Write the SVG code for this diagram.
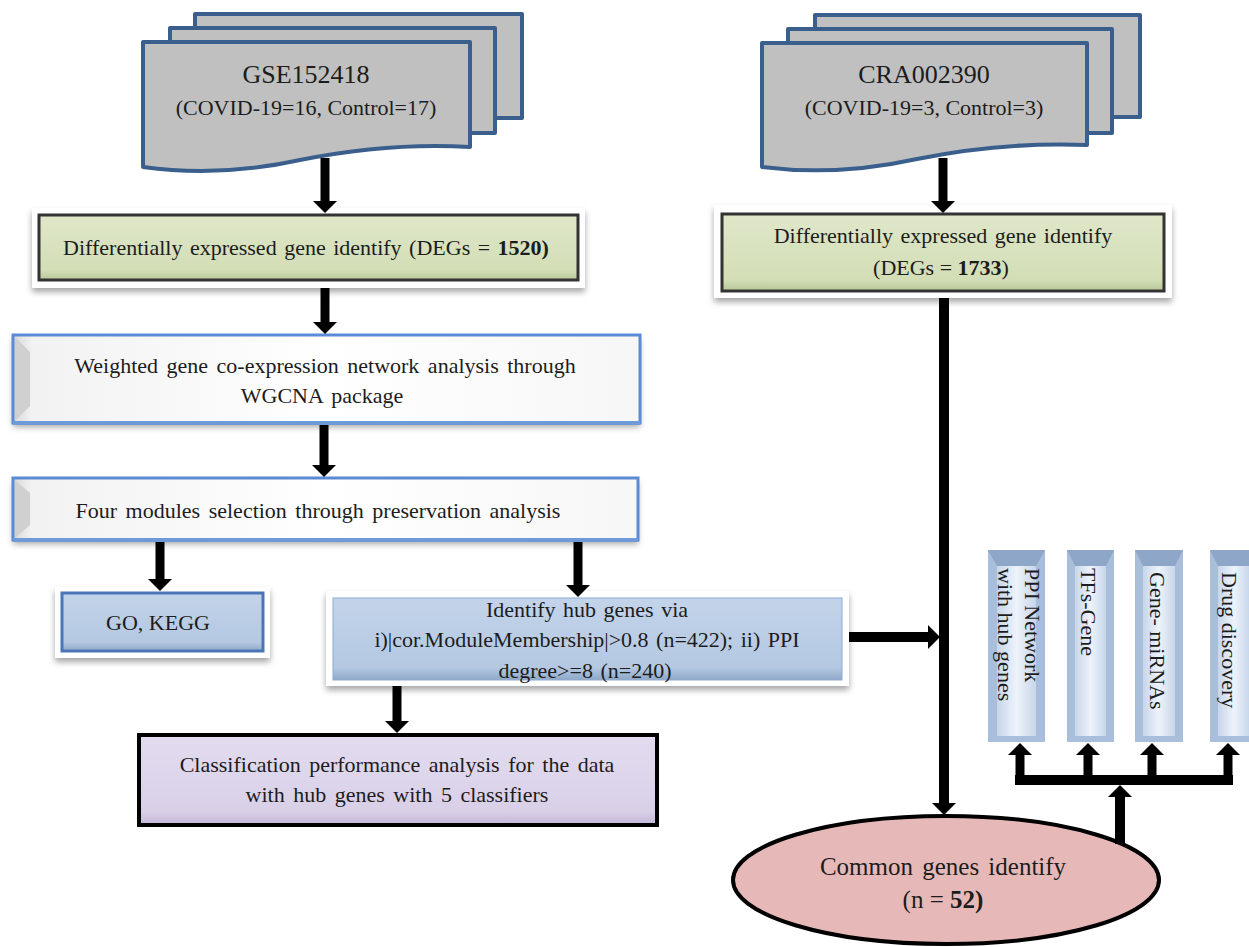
<svg xmlns="http://www.w3.org/2000/svg" width="1249" height="947" viewBox="0 0 1249 947">
<defs>
<style>
.t{font-family:"Liberation Serif","Times New Roman",serif;fill:#1c1c1c;font-size:22px;text-anchor:middle}
.doc{fill:#c0c0c0;stroke:#3b5f8c;stroke-width:4;stroke-linejoin:round}
.glow{fill:#ffffff;filter:url(#sh)}
.deg{fill:url(#gGreen);stroke:#333333;stroke-width:3}
.wbox{fill:url(#gWhite);stroke:#5b8bd4;stroke-width:3}
.bbox{fill:url(#gBlue)}
.conn{stroke:#000;stroke-width:9;fill:none}
.vb{fill:#a9bedb}
.vbi{fill:url(#gVert)}
.vbt{fill:#8ea6c7}
</style>
<filter id="sh" x="-5%" y="-15%" width="110%" height="140%">
<feDropShadow dx="0" dy="4" stdDeviation="3" flood-color="#000" flood-opacity="0.35"/>
</filter>
<linearGradient id="gGreen" x1="0" y1="0" x2="0" y2="1">
<stop offset="0" stop-color="#dfe7c9"/><stop offset="0.85" stop-color="#d3deb6"/><stop offset="1" stop-color="#b9c79a"/>
</linearGradient>
<linearGradient id="gWhite" x1="0" y1="0" x2="1" y2="0">
<stop offset="0" stop-color="#d8d8d8"/><stop offset="0.03" stop-color="#f2f2f2"/><stop offset="0.5" stop-color="#ffffff"/><stop offset="1" stop-color="#f7f7f7"/>
</linearGradient>
<linearGradient id="gBlue" x1="0" y1="0" x2="0" y2="1">
<stop offset="0" stop-color="#c3d4ea"/><stop offset="0.85" stop-color="#b4c8e2"/><stop offset="1" stop-color="#8fa8c8"/>
</linearGradient>
<linearGradient id="gPurple" x1="0" y1="0" x2="0" y2="1">
<stop offset="0" stop-color="#e3dcef"/><stop offset="0.85" stop-color="#d9d0e8"/><stop offset="1" stop-color="#c2b6d6"/>
</linearGradient>
<linearGradient id="gVert" x1="0" y1="0" x2="1" y2="0">
<stop offset="0" stop-color="#c7d6ea"/><stop offset="0.5" stop-color="#eef3fa"/><stop offset="1" stop-color="#c7d6ea"/>
</linearGradient>
<marker id="ah" markerUnits="userSpaceOnUse" markerWidth="12" markerHeight="24" refX="0" refY="12" orient="auto">
<path d="M0,0 L12,12 L0,24 Z" fill="#000"/>
</marker>
</defs>
<rect width="1249" height="947" fill="#ffffff"/>

<g id="gse152418">
<rect class="doc" x="195" y="14" width="327" height="104"/>
<rect class="doc" x="170" y="28" width="325" height="105"/>
<path class="doc" d="M143,42 H470 V147 C420,144 360,148 300,160 C250,171 200,175 143,167 Z"/>
<text class="t" x="306" y="83" style="font-size:26px">GSE152418</text>
<text class="t" x="306" y="115">(COVID-19=16, Control=17)</text>
</g>

<g id="cra002390">
<rect class="doc" x="815" y="15" width="325" height="102"/>
<rect class="doc" x="788" y="29" width="324" height="104"/>
<path class="doc" d="M762,43 H1087 V145 C1037,143 977,147 917,159 C867,170 817,174 762,167 Z"/>
<text class="t" x="924" y="83" style="font-size:26px">CRA002390</text>
<text class="t" x="924" y="115">(COVID-19=3, Control=3)</text>
</g>

<g id="deg1">
<rect class="glow" x="32" y="208" width="553" height="80"/>
<rect class="deg" x="39" y="215" width="539" height="65"/>
<text class="t" x="306" y="255" style="word-spacing:2px">Differentially expressed gene identify (DEGs = <tspan font-weight="bold">1520)</tspan></text>
</g>

<g id="deg2">
<rect class="glow" x="714" y="205" width="458" height="93"/>
<rect class="deg" x="722" y="214" width="442" height="77"/>
<text class="t" x="943" y="243" style="word-spacing:2px">Differentially expressed gene identify</text>
<text class="t" x="941" y="275">(DEGs = <tspan font-weight="bold">1733</tspan>)</text>
</g>

<g id="wgcna">
<rect x="13" y="335" width="627" height="88" fill="#ffffff" filter="url(#sh)"/>
<rect class="wbox" x="13" y="335" width="627" height="88"/>
<polygon points="15,337 30,352 30,406 15,421" fill="#d0d0d0"/>
<line x1="13" y1="423" x2="640" y2="423" stroke="#6f9ad8" stroke-width="4"/>
<text class="t" x="325" y="373" style="word-spacing:3px">Weighted gene co-expression network analysis through</text>
<text class="t" x="322" y="403" style="word-spacing:3px">WGCNA package</text>
</g>

<g id="modules">
<rect x="13" y="478" width="625" height="62" fill="#ffffff" filter="url(#sh)"/>
<rect class="wbox" x="13" y="478" width="625" height="62"/>
<polygon points="15,480 30,493 30,525 15,538" fill="#d0d0d0"/>
<line x1="13" y1="540" x2="638" y2="540" stroke="#6f9ad8" stroke-width="4"/>
<text class="t" x="318" y="518" style="word-spacing:3px">Four modules selection through preservation analysis</text>
</g>

<g id="gokegg">
<rect class="glow" x="55" y="587" width="215" height="71"/>
<rect class="bbox" x="62" y="593" width="201" height="58" stroke="#4a76b8" stroke-width="3"/>
<text class="t" x="158" y="630">GO, KEGG</text>
</g>

<g id="hub">
<rect class="glow" x="326" y="591" width="523" height="95"/>
<rect class="bbox" x="333" y="598" width="509" height="82" stroke="#8eaad0" stroke-width="1"/>
<text class="t" x="587" y="617" style="word-spacing:2px">Identify hub genes via</text>
<text class="t" x="587" y="647" style="word-spacing:2px">i)|cor.ModuleMembership|&gt;0.8  (n=422); ii) PPI</text>
<text class="t" x="585" y="678" style="word-spacing:2px">degree&gt;=8 (n=240)</text>
</g>

<g id="classification">
<rect x="139" y="735" width="518" height="90" fill="url(#gPurple)" stroke="#000" stroke-width="4"/>
<text class="t" x="397" y="772" style="word-spacing:3px">Classification performance analysis for the data</text>
<text class="t" x="397" y="802" style="word-spacing:3px">with hub genes with 5 classifiers</text>
</g>

<g id="ppi">
<rect class="vb" x="988" y="550" width="57" height="192"/>
<rect class="vbi" x="997" y="566" width="39" height="170"/>
<polygon class="vbt" points="988,550 1045,550 1036,566 997,566"/>
<text class="t" style="text-anchor:start" transform="translate(1025,568) rotate(90)">PPI Network</text>
<text class="t" style="text-anchor:start" transform="translate(998,568) rotate(90)">with hub genes</text>
</g>

<g id="tfs">
<rect class="vb" x="1067" y="550" width="47" height="192"/>
<rect class="vbi" x="1075" y="566" width="31" height="170"/>
<polygon class="vbt" points="1067,550 1114,550 1106,566 1075,566"/>
<text class="t" style="text-anchor:start" transform="translate(1081,568) rotate(90)">TFs-Gene</text>
</g>

<g id="mirna">
<rect class="vb" x="1135" y="550" width="48" height="192"/>
<rect class="vbi" x="1143" y="566" width="32" height="170"/>
<polygon class="vbt" points="1135,550 1183,550 1175,566 1143,566"/>
<text class="t" style="text-anchor:start" transform="translate(1150,572) rotate(90)">Gene- miRNAs</text>
</g>

<g id="drug">
<rect class="vb" x="1210" y="550" width="48" height="192"/>
<rect class="vbi" x="1218" y="566" width="32" height="170"/>
<polygon class="vbt" points="1210,550 1258,550 1250,566 1218,566"/>
<text class="t" style="text-anchor:start" transform="translate(1222,572) rotate(90)">Drug discovery</text>
</g>

<g id="common">
<ellipse cx="946" cy="880" rx="213" ry="64" fill="#e6b9b8" stroke="#000" stroke-width="4"/>
<text class="t" x="943" y="875" style="font-size:25px;word-spacing:3px">Common genes identify</text>
<text class="t" x="943" y="908" style="font-size:25px">(n = <tspan font-weight="bold">52)</tspan></text>
</g>

<g id="connectors">
<line class="conn" x1="325" y1="158" x2="325" y2="201" marker-end="url(#ah)"/>
<line class="conn" x1="943" y1="158" x2="943" y2="201" marker-end="url(#ah)"/>
<line class="conn" x1="325" y1="288" x2="325" y2="322" marker-end="url(#ah)"/>
<line class="conn" x1="324" y1="425" x2="324" y2="465" marker-end="url(#ah)"/>
<line class="conn" x1="160" y1="542" x2="160" y2="579" marker-end="url(#ah)"/>
<line class="conn" x1="578" y1="542" x2="578" y2="585" marker-end="url(#ah)"/>
<line class="conn" x1="397" y1="686" x2="397" y2="721" marker-end="url(#ah)"/>
<line class="conn" style="stroke-width:10" x1="849" y1="637" x2="928" y2="637" marker-end="url(#ah)"/>
<line class="conn" style="stroke-width:10" x1="944" y1="298" x2="944" y2="803" marker-end="url(#ah)"/>
<line class="conn" style="stroke-width:10" x1="1120" y1="844" x2="1120" y2="797" marker-end="url(#ah)"/>
<line class="conn" style="stroke-width:10" x1="1015" y1="780" x2="1233" y2="780"/>
<line class="conn" x1="1020" y1="785" x2="1020" y2="755" marker-end="url(#ah)"/>
<line class="conn" x1="1088" y1="785" x2="1088" y2="755" marker-end="url(#ah)"/>
<line class="conn" x1="1152" y1="785" x2="1152" y2="755" marker-end="url(#ah)"/>
<line class="conn" x1="1228" y1="785" x2="1228" y2="755" marker-end="url(#ah)"/>
</g>
</svg>
